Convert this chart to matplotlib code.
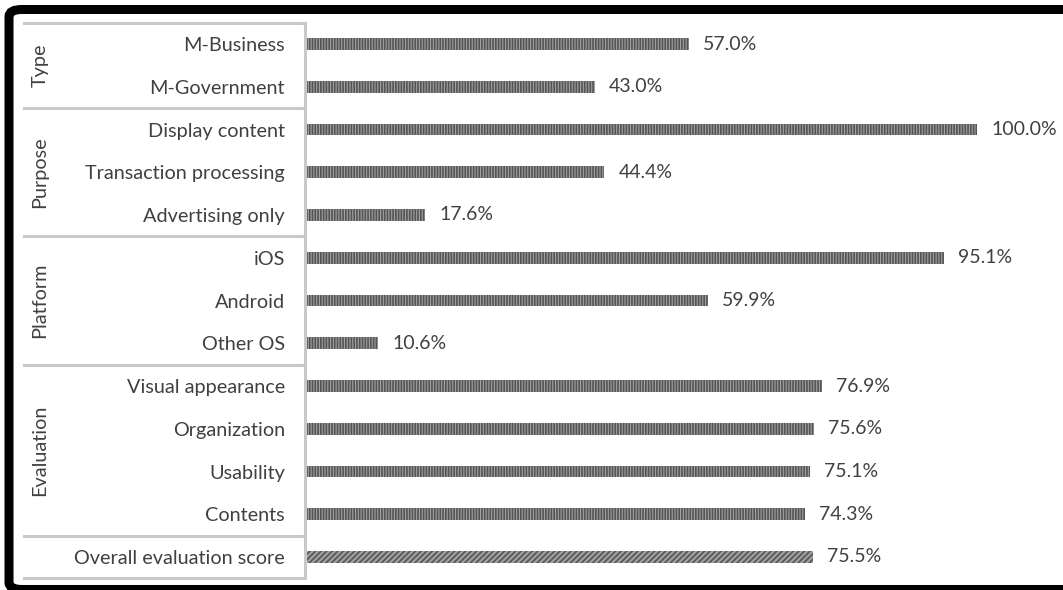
import numpy as np
import matplotlib
matplotlib.use("Agg")
import matplotlib.pyplot as plt
from matplotlib.patches import FancyBboxPatch
from matplotlib.transforms import blended_transform_factory

# ------------------------------------------------------
# Data
# ------------------------------------------------------
categories = ["M-Business", "M-Government",
              "Display content", "Transaction processing", "Advertising only",
              "iOS", "Android", "Other OS",
              "Visual appearance", "Organization", "Usability", "Contents",
              "Overall evaluation score"]
values = [57.0, 43.0, 100.0, 44.4, 17.6, 95.1, 59.9, 10.6, 76.9, 75.6, 75.1, 74.3, 75.5]
groups = ["Type", "Purpose", "Platform", "Evaluation"]
group_rows = [(0, 1), (2, 4), (5, 7), (8, 11)]

W, H = 1063, 590
plt.rcParams['font.family'] = ['Lato', 'DejaVu Sans']
plt.rcParams['hatch.linewidth'] = 1.2

fig = plt.figure(figsize=(W / 100, H / 100), dpi=100)
left = 307 / W
ax = fig.add_axes([left, 0, 1 - left, 1])

ypos = np.arange(len(categories))
for i, (y, v) in enumerate(zip(ypos, values)):
    hatch = '//////' if i == len(values) - 1 else '||||||'
    ax.barh(y, v, height=0.28, color='#a0a0a0', edgecolor='#555555',
            hatch=hatch, linewidth=0)
    ax.text(v + 2.1, y, f"{v:.1f}%", va='center', ha='left',
            fontsize=14, color='#404040')

ax.set_xlim(0, (W - 307) / 6.7)
ax.set_ylim((H - 44) / 42.75, -44 / 42.75)
ax.set_yticks(ypos)
ax.set_yticklabels(categories, fontsize=14.3, color='#404040')
ax.tick_params(axis='y', length=0, pad=16)
ax.set_xticks([])
for s in ax.spines.values():
    s.set_visible(False)

# group separators and vertical rule
tr = blended_transform_factory(fig.transFigure, ax.transData)
line_kw = dict(color='#c8c8c8', linewidth=2.2, transform=tr, clip_on=False)
for b in [-0.5, 1.5, 4.5, 7.5, 11.5, 12.5]:
    ax.plot([24 / W, 305 / W], [b, b], **line_kw)
ax.plot([305 / W, 305 / W], [-0.5, 12.5], **line_kw)

for g, (a, b) in zip(groups, group_rows):
    ax.text(40 / W, (a + b) / 2, g, transform=tr, rotation=90,
            ha='center', va='center', fontsize=14.3, color='#404040')

# black rounded frame
frame = FancyBboxPatch((9 / W, 0.5 / H), (1080 - 9) / W, (580.5 - 0.5) / H,
                       boxstyle="round,pad=0,rounding_size=0.012",
                       transform=fig.transFigure, facecolor='none',
                       edgecolor='black', linewidth=6.5)
fig.patches.append(frame)

fig.savefig("out.png", dpi=100)
